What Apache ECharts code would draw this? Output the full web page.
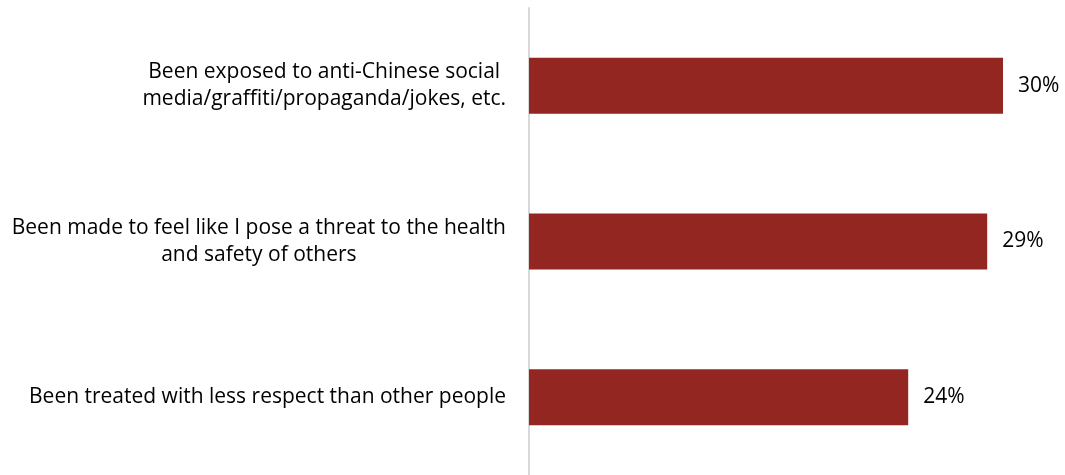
<!DOCTYPE html>
<html>
<head>
<meta charset="utf-8">
<script src="https://cdn.jsdelivr.net/npm/echarts@6/dist/echarts.min.js"></script>
<style>
  html, body { margin: 0; padding: 0; background: #fff; }
  #main { width: 1065px; height: 475px; }
</style>
</head>
<body>
<div id="main"></div>
<script>
// data
var categories = [
    'Been exposed to anti-Chinese social\nmedia/graffiti/propaganda/jokes, etc.',
    'Been made to feel like I pose a threat to the health\nand safety of others',
    'Been treated with less respect than other people'
];
var values = [30, 29, 24];

var myChart = echarts.init(document.getElementById('main'));
var option = {
    animation: false,
    textStyle: { fontFamily: 'Open Sans' },
    grid: {
        left: 529,
        right: 62,
        top: 8,
        bottom: -6
    },
    xAxis: {
        type: 'value',
        min: 0,
        max: 30,
        show: false
    },
    yAxis: {
        type: 'category',
        inverse: true,
        data: categories,
        axisLine: { show: true, lineStyle: { color: '#d9d9d9', width: 2 } },
        axisTick: { show: false },
        axisLabel: {
            margin: 23,
            color: '#000',
            fontSize: 21,
            lineHeight: 27,
            fontFamily: 'Open Sans',
            formatter: function (v) {
                return v.split('\n').map(function (l) { return '{c|' + l + '}'; }).join('\n');
            },
            rich: {
                c: { align: 'center', fontSize: 21, lineHeight: 27, color: '#000', fontFamily: 'Open Sans' }
            }
        }
    },
    series: [
        {
            type: 'bar',
            data: values,
            barCategoryGap: '64%',
            itemStyle: { color: '#932621' },
            label: {
                show: true,
                position: 'right',
                distance: 15,
                color: '#000',
                fontSize: 21,
                fontFamily: 'Open Sans',
                formatter: '{c}%'
            }
        }
    ]
};
myChart.setOption(option);
</script>
</body>
</html>
